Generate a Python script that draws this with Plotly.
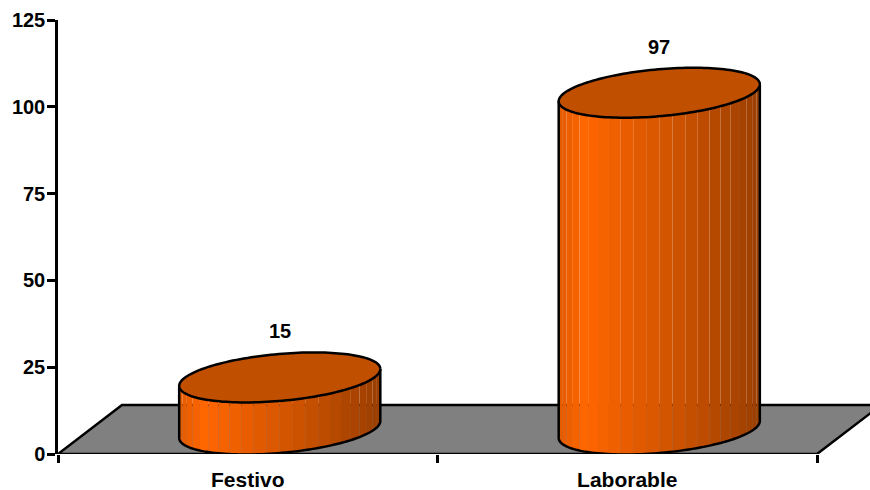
import numpy as np
import plotly.graph_objects as go

# Data
categories = ["Festivo", "Laborable"]
values = [15, 97]
y_ticks = [0, 25, 50, 75, 100, 125]

# Pseudo-3D geometry, in axis units
DEPTH_X, DEPTH_Y = 0.1686, 14.1
RADIUS_X, TILT_Y, RADIUS_Y = 0.265, 2.45, 6.77
X_MAX = 2.1396
FACETS = 24
LW = 2.5
FONT = dict(family="Liberation Sans, Arial, sans-serif", size=20, color="black", weight="bold")
XFONT = dict(FONT, size=21)
STOPS_F = [0.0, 0.13, 0.55, 1.0]
STOPS_RGB = [(226, 90, 0), (255, 102, 0), (210, 84, 0), (154, 62, 0)]


def shade(f):
    r, g, b = [np.interp(f, STOPS_F, [s[i] for s in STOPS_RGB]) for i in range(3)]
    return f"rgb({r:.0f},{g:.0f},{b:.0f})"


def ellipse_point(cx, cy, t):
    return cx + RADIUS_X * np.cos(t), cy + TILT_Y * np.cos(t) + RADIUS_Y * np.sin(t)


fig = go.Figure()


def poly(x, y, fill=None, line=None, width=LW, close=True):
    fig.add_trace(go.Scatter(
        x=list(x), y=list(y), mode="lines", cliponaxis=False,
        fill="toself" if close else None,
        fillcolor=fill,
        line=dict(color=line or "rgba(0,0,0,0)", width=width if line else 0, simplify=False),
        hoverinfo="skip", showlegend=False,
    ))


# Floor
n = len(categories)
poly([0, n, n + DEPTH_X, DEPTH_X, 0], [0, 0, DEPTH_Y, DEPTH_Y, 0], fill="#808080", line="black")

annotations = []
for i, v in enumerate(values):
    cx = i + 0.5 + DEPTH_X / 2
    cy = DEPTH_Y / 2
    top = cy + v
    # side facets, front half of the ellipse (left to right)
    edges = np.linspace(np.pi, 2 * np.pi, FACETS + 1)
    for a, b in zip(edges[:-1], edges[1:]):
        xa, ya = ellipse_point(cx, cy, a)
        xb, yb = ellipse_point(cx, cy, b)
        mid = ((xa + xb) / 2 - (cx - RADIUS_X)) / (2 * RADIUS_X)
        poly([xa, xb, xb, xa, xa], [ya, yb, yb + v, ya + v, ya], fill=shade(mid))
    # outline of the side
    ts = np.linspace(np.pi, 2 * np.pi, 80)
    bx, by = ellipse_point(cx, cy, ts)
    poly(
        [bx[0]] + list(bx) + [bx[-1]],
        [by[0] + v] + list(by) + [by[-1] + v],
        line="black", close=False,
    )
    # top cap
    ts = np.linspace(0, 2 * np.pi, 160)
    tx, ty = ellipse_point(cx, top, ts)
    poly(tx, ty, fill="#C04F00", line="black")
    annotations.append(dict(
        x=cx, y=top + np.hypot(TILT_Y, RADIUS_Y), text=str(v), showarrow=False,
        xref="x", yref="y", yanchor="bottom", yshift=8, font=FONT,
    ))

fig.update_layout(
    width=870, height=490, autosize=False,
    margin=dict(l=58, r=0, t=20, b=36, pad=0, autoexpand=False),
    paper_bgcolor="white", plot_bgcolor="white",
    showlegend=False, annotations=annotations,
    xaxis=dict(
        range=[0, X_MAX], showgrid=False, zeroline=False, showline=False,
        tickmode="array", tickvals=[i + 0.5 for i in range(n)], ticktext=categories,
        ticks="outside", ticklen=0, tickwidth=0, tickfont=XFONT,
        ticklabelstandoff=7,
        minor=dict(tickmode="array", tickvals=list(range(n + 1)), ticks="outside",
                   ticklen=8, tickwidth=LW, tickcolor="black", showgrid=False),
    ),
    yaxis=dict(
        range=[0, 125], showgrid=False, zeroline=False, showline=True,
        linecolor="black", linewidth=LW,
        tickmode="array", tickvals=y_ticks,
        ticks="outside", ticklen=8, tickwidth=LW, tickcolor="black", tickfont=FONT,
        ticklabelstandoff=-2,
    ),
)

fig.write_html(
    "out.html", default_width="870px", default_height="490px",
    config={"displayModeBar": False},
    post_script="document.body.style.margin='0';document.body.style.overflow='hidden';",
)
